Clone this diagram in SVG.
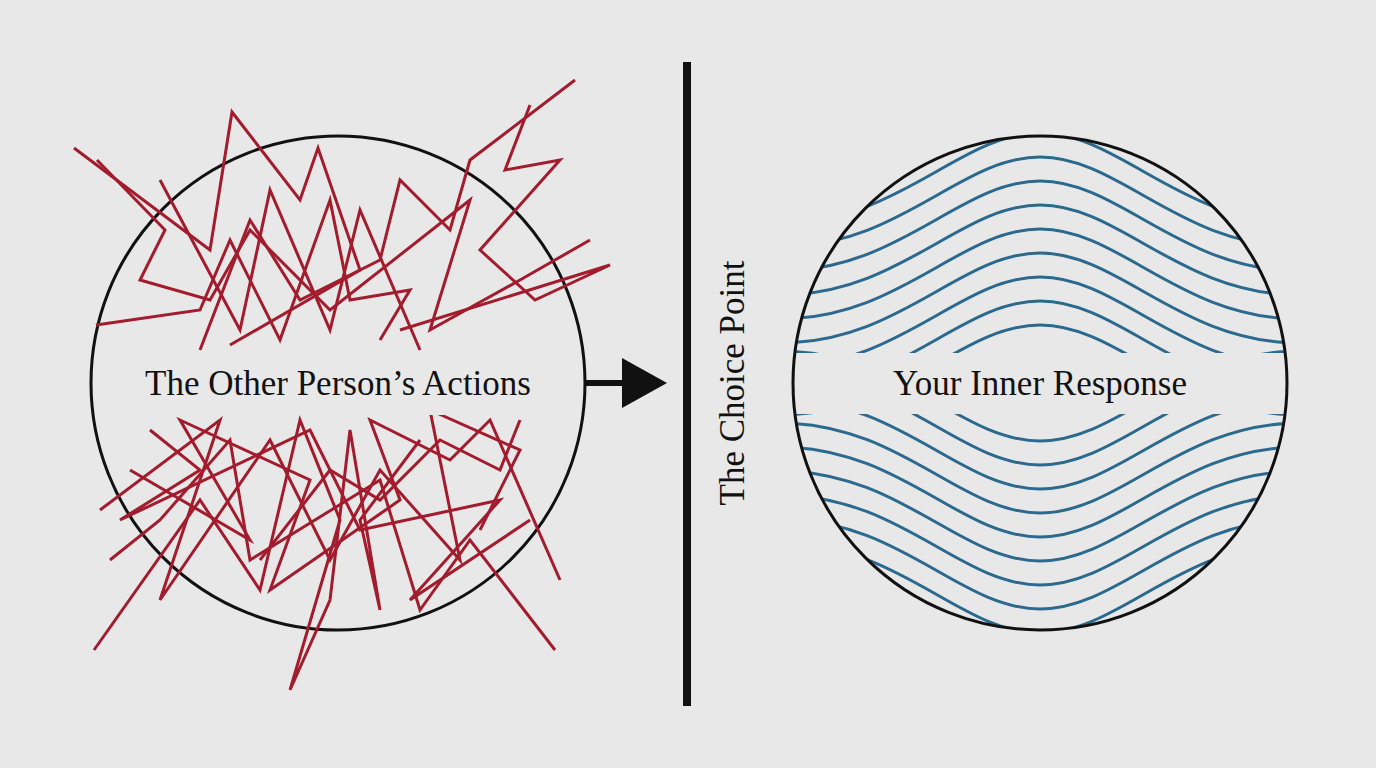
<svg xmlns="http://www.w3.org/2000/svg" width="1376" height="768" viewBox="0 0 1376 768">
<style>
.z{fill:none;stroke:#a31c2e;stroke-width:3;stroke-linejoin:miter}
.w{fill:none;stroke:#2b6a8e;stroke-width:3}
.t{font-family:"Liberation Serif",serif;font-size:35px;fill:#111}
</style>
<defs>
<clipPath id="rc"><circle cx="1040" cy="383" r="246"/></clipPath>
</defs>
<rect width="1376" height="768" fill="#e8e8e8"/>
<g id="left">
<circle cx="338" cy="383" r="247" fill="none" stroke="#111" stroke-width="3"/>
<polyline class="z" points="74,148 210,250 232,112 300,200 318,148 360,270 230,345"/>
<polyline class="z" points="97,160 165,230 140,280 210,300 250,230 330,310 470,200 430,330 520,280 590,240"/>
<polyline class="z" points="575,80 470,160 450,230 400,180 380,260 300,300 250,220 200,350"/>
<polyline class="z" points="530,105 505,170 560,160 480,250 535,300 610,265 400,330"/>
<polyline class="z" points="96,325 200,310 230,240 280,340 330,200 350,300 410,290 380,340"/>
<polyline class="z" points="160,180 240,330 270,190 330,330 360,210 420,350"/>
<polyline class="z" points="100,510 220,420 160,600 270,440 330,560 380,470 460,560 430,410 520,450 480,530"/>
<polyline class="z" points="94,650 200,500 260,590 300,420 340,520 290,690 330,600 350,430 380,610 360,520 420,440"/>
<polyline class="z" points="130,470 250,540 180,420 310,480 270,590 400,500 370,420 450,460 490,420 560,580"/>
<polyline class="z" points="110,560 160,520 230,440 250,560 380,480 420,610 470,540 555,650"/>
<polyline class="z" points="150,430 200,470 120,520 310,430 360,530 500,500 410,600 530,520"/>
<polyline class="z" points="260,560 330,470 380,500 440,440 500,470 520,420"/>
<rect x="96" y="352" width="484" height="63" fill="#e8e8e8"/>
<text class="t" x="338" y="395" text-anchor="middle">The Other Person’s Actions</text>
</g>
<g id="connectors">
<line x1="586" y1="383" x2="630" y2="383" stroke="#111" stroke-width="6"/>
<polygon points="622,358 667,383 622,408" fill="#111"/>
</g>
<g id="choice">
<line x1="687" y1="62" x2="687" y2="706" stroke="#111" stroke-width="8"/>
<text class="t" transform="translate(744,383) rotate(-90)" text-anchor="middle">The Choice Point</text>
</g>
<g id="right">
<g clip-path="url(#rc)">
<path class="w" d="M780,415 C900,415 960,325 1040,325 C1120,325 1180,415 1300,415"/>
<path class="w" d="M780,391 C900,391 960,301 1040,301 C1120,301 1180,391 1300,391"/>
<path class="w" d="M780,367 C900,367 960,277 1040,277 C1120,277 1180,367 1300,367"/>
<path class="w" d="M780,343 C900,343 960,253 1040,253 C1120,253 1180,343 1300,343"/>
<path class="w" d="M780,319 C900,319 960,229 1040,229 C1120,229 1180,319 1300,319"/>
<path class="w" d="M780,295 C900,295 960,205 1040,205 C1120,205 1180,295 1300,295"/>
<path class="w" d="M780,271 C900,271 960,181 1040,181 C1120,181 1180,271 1300,271"/>
<path class="w" d="M780,247 C900,247 960,157 1040,157 C1120,157 1180,247 1300,247"/>
<path class="w" d="M780,223 C900,223 960,133 1040,133 C1120,133 1180,223 1300,223"/>
<path class="w" d="M780,199 C900,199 960,109 1040,109 C1120,109 1180,199 1300,199"/>
<path class="w" d="M780,175 C900,175 960,85 1040,85 C1120,85 1180,175 1300,175"/>
<path class="w" d="M780,151 C900,151 960,61 1040,61 C1120,61 1180,151 1300,151"/>
<path class="w" d="M780,351 C900,351 960,441 1040,441 C1120,441 1180,351 1300,351"/>
<path class="w" d="M780,375 C900,375 960,465 1040,465 C1120,465 1180,375 1300,375"/>
<path class="w" d="M780,399 C900,399 960,489 1040,489 C1120,489 1180,399 1300,399"/>
<path class="w" d="M780,423 C900,423 960,513 1040,513 C1120,513 1180,423 1300,423"/>
<path class="w" d="M780,447 C900,447 960,537 1040,537 C1120,537 1180,447 1300,447"/>
<path class="w" d="M780,471 C900,471 960,561 1040,561 C1120,561 1180,471 1300,471"/>
<path class="w" d="M780,495 C900,495 960,585 1040,585 C1120,585 1180,495 1300,495"/>
<path class="w" d="M780,519 C900,519 960,609 1040,609 C1120,609 1180,519 1300,519"/>
<path class="w" d="M780,543 C900,543 960,633 1040,633 C1120,633 1180,543 1300,543"/>
<path class="w" d="M780,567 C900,567 960,657 1040,657 C1120,657 1180,567 1300,567"/>
<path class="w" d="M780,591 C900,591 960,681 1040,681 C1120,681 1180,591 1300,591"/>
<path class="w" d="M780,615 C900,615 960,705 1040,705 C1120,705 1180,615 1300,615"/>
<rect x="780" y="353" width="520" height="61" fill="#e8e8e8"/>
</g>
<circle cx="1040" cy="383" r="247" fill="none" stroke="#111" stroke-width="3"/>
<text class="t" x="1040" y="395" text-anchor="middle">Your Inner Response</text>
</g>
</svg>
